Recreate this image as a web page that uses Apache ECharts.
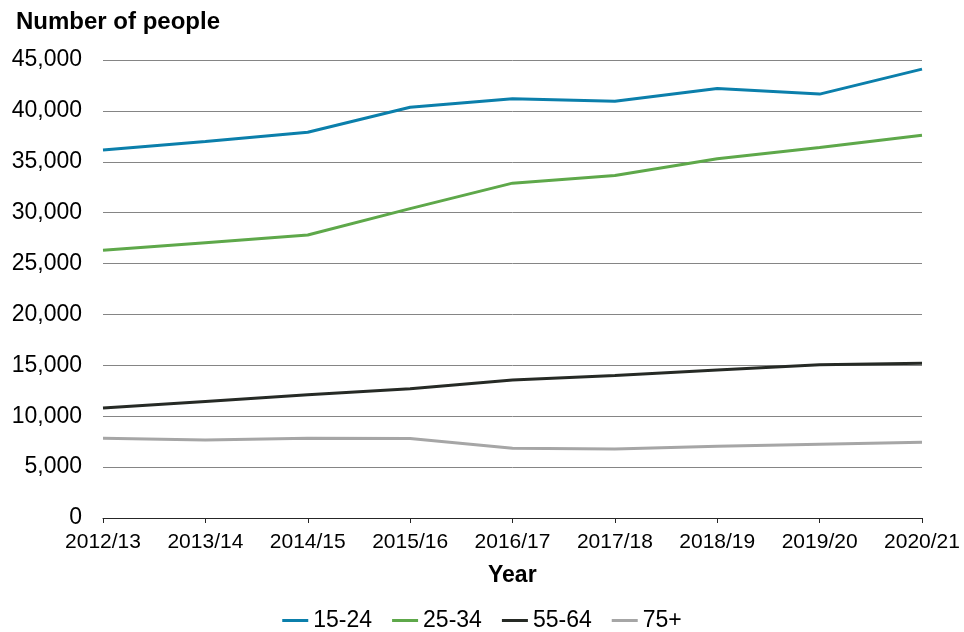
<!DOCTYPE html>
<html>
<head>
<meta charset="utf-8">
<script src="https://cdn.jsdelivr.net/npm/echarts@6/dist/echarts.min.js"></script>
<style>
  html, body { margin: 0; padding: 0; background: #fff; }
  #chart { width: 964px; height: 632px; }
</style>
</head>
<body>
<div id="chart"></div>
<script>
// Financial years on the x axis
const years = ['2012/13', '2013/14', '2014/15', '2015/16', '2016/17', '2017/18', '2018/19', '2019/20', '2020/21'];

// Number of people in each age group
const age15to24 = [36150, 37000, 37900, 40350, 41200, 40950, 42200, 41650, 44100];
const age25to34 = [26300, 27050, 27800, 30400, 32900, 33650, 35300, 36400, 37600];
const age55to64 = [10800, 11450, 12100, 12700, 13550, 14000, 14550, 15050, 15200];
const age75plus = [7830, 7660, 7830, 7800, 6850, 6780, 7050, 7240, 7440];

const seriesNames = ['15-24', '25-34', '55-64', '75+'];
const seriesColors = ['#0b7fab', '#5ea84a', '#262a25', '#a6a6a6'];
const seriesData = [age15to24, age25to34, age55to64, age75plus];

const font = 'Arial, "Liberation Sans", Helvetica, sans-serif';

const chart = echarts.init(document.getElementById('chart'), null, { renderer: 'canvas' });

chart.setOption({
  animation: false,
  backgroundColor: '#ffffff',
  textStyle: { fontFamily: font, color: '#000' },
  grid: { left: 103, right: 42, top: 60, bottom: 114, containLabel: false },
  legend: {
    top: 604,
    left: 'center',
    icon: 'rect',
    itemWidth: 26,
    itemHeight: 3,
    itemGap: 20,
    textStyle: { fontSize: 23, color: '#000', fontFamily: font },
    data: seriesNames
  },
  xAxis: {
    type: 'category',
    data: years,
    boundaryGap: false,
    axisLine: { show: true, lineStyle: { color: '#262626', width: 1 } },
    axisTick: { show: true, length: 5, alignWithLabel: true, lineStyle: { color: '#262626' } },
    axisLabel: { fontSize: 21, color: '#000', margin: 14, fontFamily: font, interval: 0 },
    splitLine: { show: false }
  },
  yAxis: {
    type: 'value',
    min: 0,
    max: 45000,
    interval: 5000,
    axisLine: { show: false },
    axisTick: { show: false },
    axisLabel: {
      fontSize: 23,
      color: '#000',
      margin: 21,
      fontFamily: font,
      formatter: v => v.toLocaleString('en-GB')
    },
    splitLine: { show: true, lineStyle: { color: '#858585', width: 1 } }
  },
  graphic: [
    {
      type: 'text',
      left: 16,
      top: 10,
      style: { text: 'Number of people', font: 'bold 24px ' + font, fill: '#000' }
    },
    {
      type: 'text',
      left: 488,
      top: 564,
      style: { text: 'Year', font: 'bold 23px ' + font, fill: '#000' }
    }
  ],
  series: seriesNames.map((name, i) => ({
    name: name,
    type: 'line',
    data: seriesData[i],
    symbol: 'none',
    smooth: false,
    color: seriesColors[i],
    lineStyle: { color: seriesColors[i], width: 3 },
    itemStyle: { color: seriesColors[i] }
  }))
});
</script>
</body>
</html>
